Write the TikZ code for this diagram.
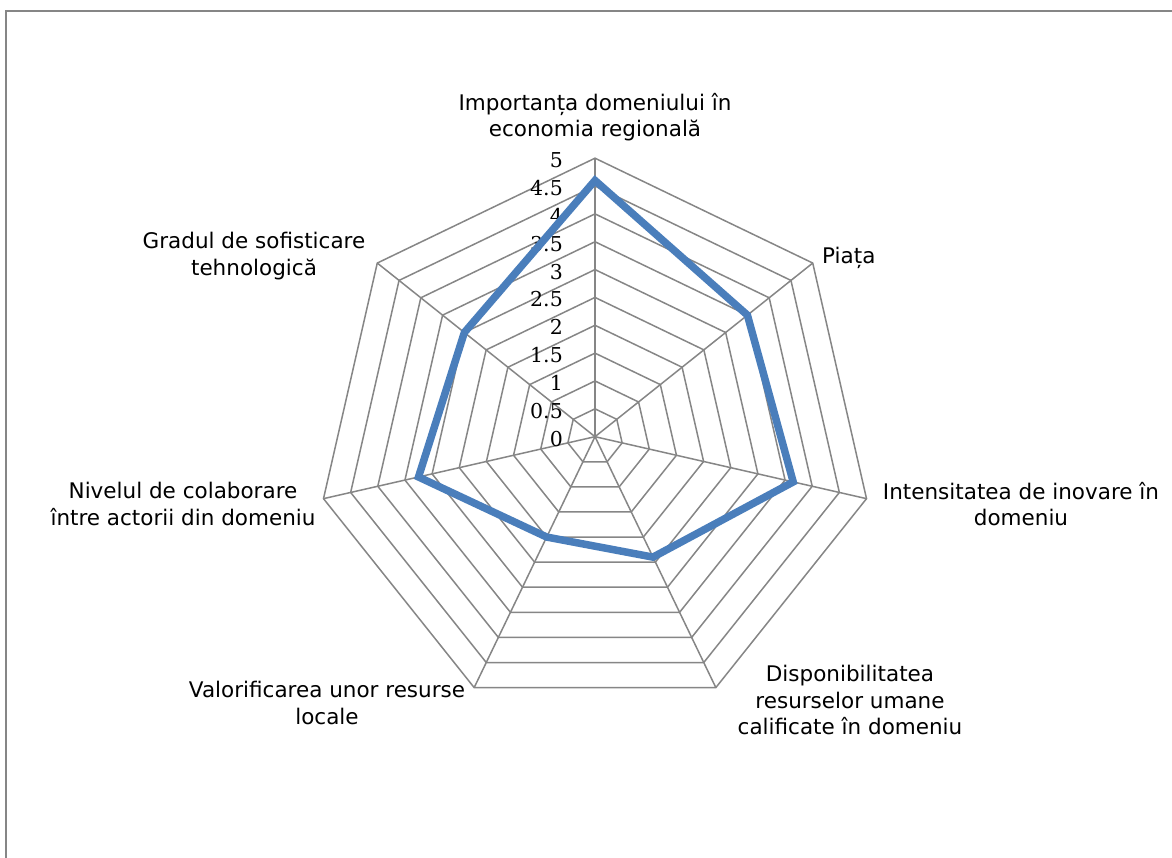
\documentclass[tikz,border=0pt]{standalone}
\usepackage{fontspec}
\setmainfont{DejaVu Sans}
\newfontfamily\tickfont{DejaVu Serif}
\usetikzlibrary{calc}
\begin{document}
\begin{tikzpicture}[x=1pt,y=1pt,
  gridline/.style={draw=gray!95!black, line width=1.5pt},
  frameline/.style={draw=gray!90!black, line width=2.2pt},
  series/.style={draw=blue!40!cyan!50!black, line width=7.5pt, line join=miter},
  axlabel/.style={align=center, inner sep=0pt, font=\fontsize{21.5}{26.5}\selectfont},
  ticklabel/.style={anchor=east, inner sep=0pt, font=\tickfont\fontsize{20.5}{22}\selectfont}]
\definecolor{seriesblue}{HTML}{4A7EBB}
\definecolor{gridgray}{HTML}{868686}
\useasboundingbox (0,0) rectangle (1172,858);
\fill[white] (0,0) rectangle (1172,858);
\draw[frameline, draw=gridgray] (6,-2) -- (6,847) -- (1174,847);
\coordinate (C) at (595,421.3);
% rings
\foreach \k in {1,...,10}{
  \draw[gridline, draw=gridgray] ($(C)+(90:\k*27.85)$)
    \foreach \i in {1,...,6}{ -- ($(C)+(90-\i*360/7:\k*27.85)$) } -- cycle;
}
% spokes
\foreach \i in {0,...,6}{
  \coordinate (V\i) at ($(C)+(90-\i*360/7:278.5)$);
  \draw[gridline, draw=gridgray] (C) -- (V\i);
}
% tick labels
\foreach \k/\t in {0/0,1/0.5,2/1,3/1.5,4/2,5/2.5,6/3,7/3.5,8/4,9/4.5,10/5}{
  \node[ticklabel] (T\k) at (563,421.3+\k*27.85-2) {\t};
}
% series
\foreach \i/\v in {0/4.6,1/3.5,2/3.65,3/2.4,4/2.0,5/3.25,6/3.0}{
  \coordinate (P\i) at ($(C)+(90-\i*360/7:\v*55.7)$);
}
\draw[series, draw=seriesblue] (P0) -- (P1) -- (P2) -- (P3) -- (P4) -- (P5) -- (P6) -- cycle;
% axis labels
\node[axlabel] (L0) at (595,741) {Importanța domeniului în\\economia regională};
\node[axlabel, anchor=west] (L1) at (822,600) {Piața};
\node[axlabel] (L2) at (1021,354) {Intensitatea de inovare în\\domeniu};
\node[axlabel] (L3) at (850,158) {Disponibilitatea\\resurselor umane\\calificate în domeniu};
\node[axlabel] (L4) at (327,155) {Valorificarea unor resurse\\locale};
\node[axlabel] (L5) at (183,354) {Nivelul de colaborare\\între actorii din domeniu};
\node[axlabel] (L6) at (254,602) {Gradul de sofisticare\\tehnologică};
\end{tikzpicture}
\end{document}
